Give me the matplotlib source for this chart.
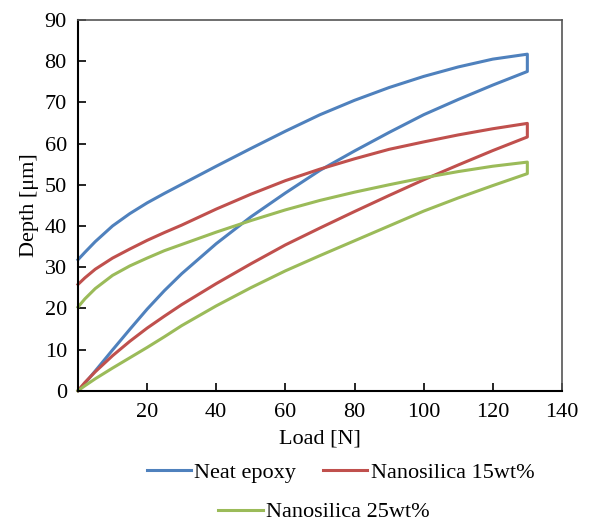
import matplotlib.pyplot as plt
from matplotlib.lines import Line2D

plt.rcParams['font.family'] = ['Liberation Serif', 'DejaVu Serif']

# load values [N]
load = [0, 2, 5, 10, 15, 20, 25, 30, 40, 50, 60, 70, 80, 90, 100, 110, 120, 130]

# depth [um] on loading (lower branch) and unloading (upper branch)
neat_loading = [0, 1.8, 4.8, 9.9, 14.9, 19.8, 24.3, 28.4, 35.7, 42.2, 48.0, 53.5,
                58.2, 62.7, 67.0, 70.7, 74.2, 77.5]
neat_unloading = [31.8, 33.6, 36.2, 40.0, 43.0, 45.6, 47.9, 50.1, 54.5, 58.8, 63.0,
                  67.0, 70.5, 73.6, 76.3, 78.6, 80.5, 81.7]

ns15_loading = [0, 2.0, 4.6, 8.5, 12.0, 15.2, 18.1, 20.9, 26.0, 30.8, 35.4, 39.5,
                43.5, 47.4, 51.2, 54.8, 58.3, 61.6]
ns15_unloading = [25.8, 27.4, 29.5, 32.2, 34.4, 36.5, 38.4, 40.2, 44.1, 47.7, 51.0,
                  53.8, 56.3, 58.6, 60.4, 62.1, 63.6, 64.9]

ns25_loading = [0, 1.2, 2.9, 5.5, 8.0, 10.5, 13.1, 15.8, 20.6, 25.0, 29.1, 32.8,
                36.4, 40.0, 43.6, 46.8, 49.8, 52.7]
ns25_unloading = [20.3, 22.3, 24.8, 28.0, 30.3, 32.2, 34.0, 35.5, 38.5, 41.3, 43.9,
                  46.2, 48.2, 50.0, 51.7, 53.2, 54.5, 55.5]

labels = ['Neat epoxy', 'Nanosilica 15wt%', 'Nanosilica 25wt%']
colors = ['#4F81BD', '#C0504D', '#9BBB59']
series = [(neat_loading, neat_unloading),
          (ns15_loading, ns15_unloading),
          (ns25_loading, ns25_unloading)]

fig = plt.figure(figsize=(5.89, 5.22), dpi=100)
ax = fig.add_axes([0.1324, 0.2515, 0.8216, 0.7102])

for (lo, un), c in zip(series, colors):
    x = load + load[::-1]
    y = lo + un[::-1]
    ax.plot(x, y, color=c, lw=2.2, solid_joinstyle='round', clip_on=False)

ax.set_xlim(0, 140)
ax.set_ylim(0, 90)
ax.set_xticks(range(0, 141, 20))
ax.set_xticklabels([''] + [str(v) for v in range(20, 141, 20)])
ax.set_yticks(range(0, 91, 10))
ax.tick_params(direction='in', length=6, width=1.2, labelsize=16, pad=8)
ax.tick_params(axis='x', pad=9)

for s in ['left', 'bottom']:
    ax.spines[s].set_linewidth(1.5)
    ax.spines[s].set_color('black')
for s in ['top', 'right']:
    ax.spines[s].set_linewidth(1.2)
    ax.spines[s].set_color('#555555')

ax.set_xlabel('Load [N]', fontsize=16, labelpad=5)
ax.set_ylabel('Depth [μm]', fontsize=16, labelpad=4)

handles = [Line2D([], [], color=c, lw=2.2) for c in colors]
fig.legend(handles[:2], labels[:2], ncol=2, loc='center',
           bbox_to_anchor=(0.578, 0.094), frameon=False, fontsize=16,
           handlelength=2.0, handletextpad=0.15, columnspacing=1.2)
fig.legend(handles[2:], labels[2:], loc='center',
           bbox_to_anchor=(0.55, 0.019), frameon=False, fontsize=16,
           handlelength=2.0, handletextpad=0.15)

fig.savefig('out.png', dpi=100)
